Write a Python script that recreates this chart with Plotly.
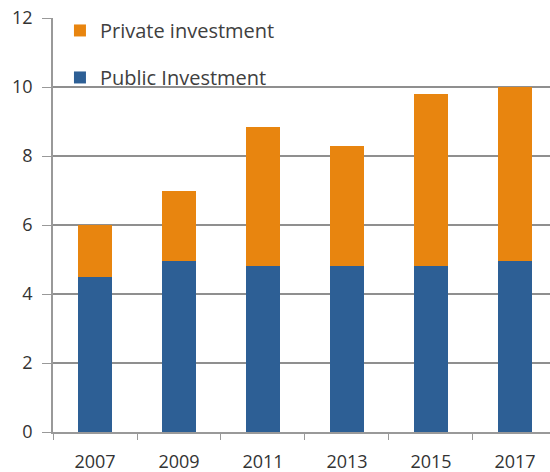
import plotly.graph_objects as go

years = ["2007", "2009", "2011", "2013", "2015", "2017"]
public = [4.5, 4.95, 4.8, 4.8, 4.8, 4.95]
private = [1.5, 2.05, 4.05, 3.5, 5.0, 5.05]
y_ticks = [0, 2, 4, 6, 8, 10, 12]

fig = go.Figure()
fig.add_trace(go.Bar(x=years, y=public, name="Public Investment",
                     marker=dict(color="#2D5F95", line=dict(width=0)),
                     legendgroup="a", legendrank=2))
fig.add_trace(go.Bar(x=years, y=private, name="Private investment",
                     marker=dict(color="#E8850F", line=dict(width=0)),
                     legendgroup="b", legendrank=1))

fig.update_layout(
    width=550, height=472,
    margin=dict(l=53, r=0, t=18, b=40),
    barmode="stack", bargap=0.6,
    paper_bgcolor="white", plot_bgcolor="white",
    font=dict(family="Open Sans", size=18, color="#333333"),
    showlegend=True,
    legend=dict(x=0.014, y=1.017, xanchor="left", yanchor="top",
                traceorder="grouped", tracegroupgap=18,
                bgcolor="rgba(0,0,0,0)", font=dict(size=20, color="#404040")),
)
fig.update_xaxes(type="category", range=[-0.5, 5.417],
                 showline=True, linecolor="#999999", linewidth=1.5,
                 ticks="outside", tickson="boundaries", ticklen=6,
                 tickcolor="#999999", tickfont=dict(size=18, color="#333333"),
                 ticklabelstandoff=13, showgrid=False)
fig.update_yaxes(range=[0, 12], tickvals=y_ticks,
                 showline=True, linecolor="#999999", linewidth=1.5,
                 ticks="outside", ticklen=9, tickcolor="#999999",
                 showgrid=True, gridcolor="#8f8f8f", gridwidth=1.5,
                 zeroline=False, tickfont=dict(size=18, color="#333333"),
                 ticklabelstandoff=6)

fig.write_html("out.html")
